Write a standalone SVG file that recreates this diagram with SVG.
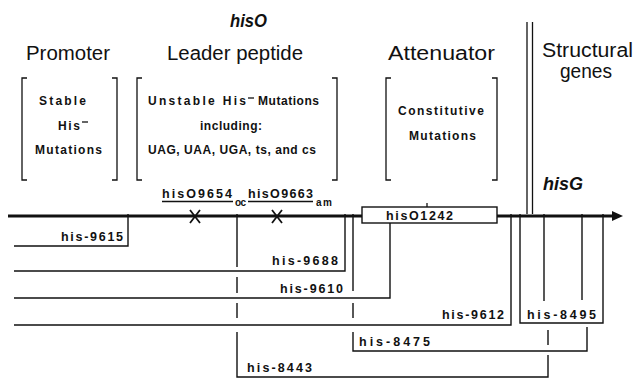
<svg xmlns="http://www.w3.org/2000/svg" width="634" height="379" viewBox="0 0 634 379">
<style>
.h{font-family:"Liberation Sans",Arial,sans-serif;font-size:20px;fill:#111}
.hi{font-family:"Liberation Sans",Arial,sans-serif;font-size:18px;font-style:italic;font-weight:bold;fill:#111}
.s{font-family:"Liberation Sans",Arial,sans-serif;font-size:12px;font-weight:bold;fill:#111}
.d{font-family:"Liberation Sans",Arial,sans-serif;font-size:12.5px;font-weight:bold;fill:#111}
.sub{font-family:"Liberation Sans",Arial,sans-serif;font-size:10px;font-weight:bold;fill:#111}
.ln{stroke:#111;stroke-width:1.4;fill:none}
.br{stroke:#111;stroke-width:1.3;fill:none}
</style>
<rect width="634" height="379" fill="#fff"/>

<g id="headings">
<text class="hi" x="230" y="27" textLength="37" lengthAdjust="spacingAndGlyphs">hisO</text>
<text class="h" x="26" y="60" textLength="84" lengthAdjust="spacingAndGlyphs">Promoter</text>
<text class="h" x="167" y="60" textLength="136" lengthAdjust="spacingAndGlyphs">Leader peptide</text>
<text class="h" x="388" y="60" textLength="107" lengthAdjust="spacingAndGlyphs">Attenuator</text>
<text class="h" x="542" y="57" textLength="91" lengthAdjust="spacingAndGlyphs">Structural</text>
<text class="h" x="560" y="78" textLength="52" lengthAdjust="spacingAndGlyphs">genes</text>
<text class="hi" x="543" y="190" textLength="40" lengthAdjust="spacingAndGlyphs">hisG</text>
</g>

<g id="promoter-box">
<path class="br" d="M27,78 H22 V180 H27 M112,78 H117 V180 H112"/>
<text class="s" x="39" y="105" textLength="47" lengthAdjust="spacing">Stable</text>
<text class="s" x="58" y="130" textLength="22" lengthAdjust="spacing">His</text>
<line class="br" x1="82" y1="122" x2="88" y2="122"/>
<text class="s" x="35" y="154" textLength="67" lengthAdjust="spacing">Mutations</text>
</g>

<g id="leader-box">
<path class="br" d="M142,78 H137 V180 H142 M332,78 H337 V180 H332"/>
<text class="s" x="148" y="105" textLength="98" lengthAdjust="spacing">Unstable His</text>
<line class="br" x1="248" y1="98" x2="254" y2="98"/>
<text class="s" x="258" y="105" textLength="61" lengthAdjust="spacing">Mutations</text>
<text class="s" x="200" y="130" textLength="62" lengthAdjust="spacing">including:</text>
<text class="s" x="148" y="154" textLength="168" lengthAdjust="spacing">UAG, UAA, UGA, ts, and cs</text>
</g>

<g id="attenuator-box">
<path class="br" d="M391,78 H386 V180 H391 M492,78 H497 V180 H492"/>
<text class="s" x="398" y="115" textLength="86" lengthAdjust="spacing">Constitutive</text>
<text class="s" x="409" y="140" textLength="67" lengthAdjust="spacing">Mutations</text>
</g>

<g id="boundary">
<line class="br" x1="527" y1="22" x2="527" y2="214"/>
<line class="br" x1="532.5" y1="22" x2="532.5" y2="214"/>
</g>

<g id="map">
<line x1="8" y1="216" x2="617" y2="216" stroke="#111" stroke-width="3"/>
<path d="M612,211 L623,216 L612,221 Z" fill="#111"/>
<path d="M190,210 L200,223 M200,210 L190,223" stroke="#111" stroke-width="1.8"/>
<path d="M272,210 L282,223 M282,210 L272,223" stroke="#111" stroke-width="1.8"/>
<text class="d" x="162" y="198" textLength="70" lengthAdjust="spacing">hisO9654</text>
<line class="br" x1="162" y1="201.5" x2="233" y2="201.5"/>
<text class="sub" x="235" y="206" textLength="11" lengthAdjust="spacing">oc</text>
<text class="d" x="248" y="198" textLength="65" lengthAdjust="spacing">hisO9663</text>
<line class="br" x1="248" y1="201.5" x2="313" y2="201.5"/>
<text class="sub" x="316" y="206" textLength="16" lengthAdjust="spacing">am</text>
<line class="br" x1="427" y1="203" x2="427" y2="207"/>
</g>

<g id="his01242">
<rect x="362" y="207" width="135" height="16" fill="#fff" stroke="#111" stroke-width="1.4"/>
<text class="d" x="386" y="220" textLength="67" lengthAdjust="spacing">hisO1242</text>
</g>

<g id="connectors">
<path class="ln" d="M128,214 V246 H14"/>
<path class="ln" d="M345,214 V271 H14"/>
<path class="ln" d="M390,223 V298 H14"/>
<path class="ln" d="M511,214 V325 H14"/>
<path class="ln" d="M520,214 V323 H603 V214"/>
<path class="ln" d="M544,214 V301"/>
<path class="ln" d="M582,214 V300"/>
<path class="ln" d="M237,214 V267 M237,277 V293 M237,303 V318 M237,332 V377 H548 V355 M548,345 V330"/>
<path class="ln" d="M353,214 V291 M353,303 V318 M353,332 V351 H587 V327"/>
</g>

<g id="deletion-labels">
<text class="d" x="61" y="241" textLength="62" lengthAdjust="spacing">his-9615</text>
<text class="d" x="272" y="265" textLength="66" lengthAdjust="spacing">his-9688</text>
<text class="d" x="280" y="293" textLength="63" lengthAdjust="spacing">his-9610</text>
<text class="d" x="442" y="319" textLength="62" lengthAdjust="spacing">his-9612</text>
<text class="d" x="527" y="319" textLength="69" lengthAdjust="spacing">his-8495</text>
<text class="d" x="359" y="346" textLength="71" lengthAdjust="spacing">his-8475</text>
<text class="d" x="247" y="372" textLength="65" lengthAdjust="spacing">his-8443</text>
</g>
</svg>
